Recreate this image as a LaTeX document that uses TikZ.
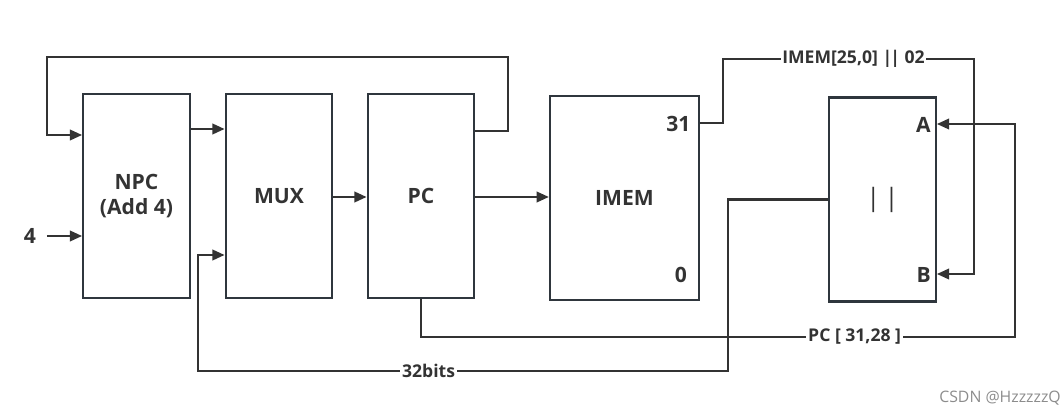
\documentclass[tikz,border=0pt]{standalone}
\usepackage{fontspec}
\setmainfont{Open Sans}
\usetikzlibrary{arrows.meta}
\definecolor{ink}{HTML}{333333}
\definecolor{edge}{HTML}{2F363D}
\begin{document}
\begin{tikzpicture}[x=0.02cm, y=-0.02cm,
    blk/.style={draw=edge, line width=1.3pt, minimum width=2.13cm, minimum height=4.08cm,
      inner sep=0pt, font=\bfseries\large, text=ink},
    arr/.style={draw=ink, line width=1.3pt, -{Triangle[length=7pt,width=6pt]}},
    wire/.style={draw=ink, line width=1.3pt},
    lbl/.style={fill=white, inner sep=1pt, font=\bfseries, text=ink},
    pin/.style={font=\bfseries\large, text=ink}]
    \useasboundingbox (0,0) rectangle (1062,415);

    \node[blk, align=center] (NPC) at (136.5,196) {NPC\\(Add 4)};
    \node[blk] (MUX) at (279,196) {MUX};
    \node[blk] (PC) at (421,196) {PC};
    \node[blk, minimum width=2.98cm] (IMEM) at (624.5,198) {IMEM};
    \node[blk, font=\Large, text=ink] (OR) at (882.5,199.5) {|\,|};

    \node[pin, anchor=east] (b31) at ([xshift=-2pt]IMEM.east |- 0,124) {31};
    \node[pin, anchor=east] (b0) at ([xshift=-4pt]IMEM.east |- 0,275) {0};
    \node[pin, anchor=east] (pA) at (OR.east |- 0,125) {A};
    \node[pin, anchor=east] (pB) at (OR.east |- 0,275) {B};
    \node[pin, inner sep=2pt] (four) at (30,236) {4};

    % feedback and data path
    \draw[arr] (PC.east |- 0,131) -| (508,57) -| (47,135) -- (NPC.west |- 0,135);
    \draw[arr] (NPC.east |- 0,129) -- (MUX.west |- 0,129);
    \draw[arr] ([xshift=4pt]four.east) -- (NPC.west |- four);
    \draw[arr] (MUX.east |- 0,197) -- (PC.west |- 0,197);
    \draw[arr] (PC.east |- 0,197) -- (IMEM.west |- 0,197);

    \draw[arr] (OR.west) -| (728,371) -- node[lbl, pos=0.565]{32bits} (198,371)
      |- (MUX.west |- 0,255);
    \draw[arr] (PC.south) -- (421,337) -- node[lbl, pos=0.73]{PC [ 31,28 ]} (1015,337)
      -- (1015,124) -- (OR.east |- 0,124);
    \draw[arr] (IMEM.east |- 0,123) -| (723,59) -- node[lbl, pos=0.52]{IMEM[25,0] |\kern-1pt| 02} (974,59)
      |- (OR.east |- 0,274);

    \node[text=black!45, font=\small] (mark) at (1000,398) {CSDN @HzzzzzQ};
\end{tikzpicture}
\end{document}
